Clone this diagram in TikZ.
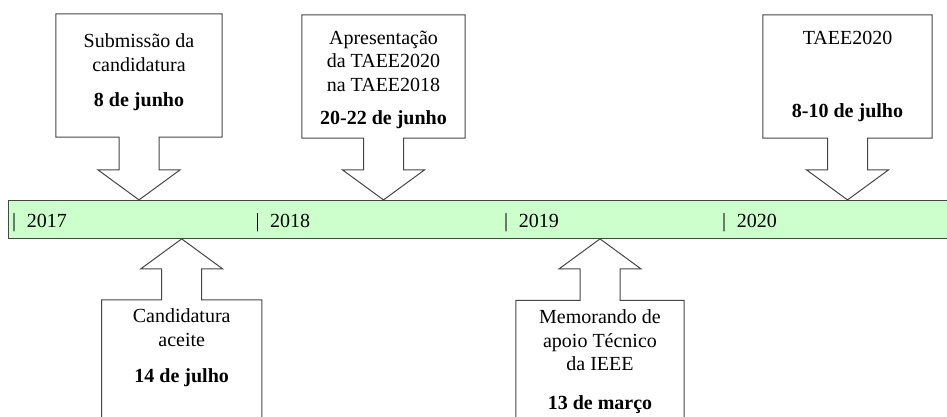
\documentclass[tikz,border=0pt]{standalone}
\usepackage{fontspec}
\setmainfont{LiberationSerif}[Extension=.ttf,UprightFont=*-Regular,BoldFont=*-Bold,
    ItalicFont=*-Italic,BoldItalicFont=*-BoldItalic]
\usetikzlibrary{calc}
\definecolor{barfill}{RGB}{204,255,204}
\definecolor{edgegray}{RGB}{70,70,70}

\begin{document}
\begin{tikzpicture}[x=1pt,y=-1pt,
    bar/.style={draw=edgegray,line width=1pt,fill=barfill,inner sep=0pt,
        minimum width=945pt,minimum height=38pt},
    evbox/.style={inner sep=0pt},
    callout/.style={draw=edgegray,line width=1pt,fill=white,line join=miter},
    evtext/.style={align=center,inner sep=0pt,anchor=north,
        font=\fontsize{20}{23.5}\selectfont},
    yeartext/.style={anchor=base west,inner sep=0pt,font=\fontsize{20}{24}\selectfont}]
    \path[use as bounding box,clip] (0,0) rectangle (947,416);

    %BAR
    \node[bar] (bar) at (481,219.4) {};
    \node[yeartext] (y2017) at (12,227.5) {|\hspace{10.7pt}2017};
    \node[yeartext] (y2018) at (255.3,227.5) {|\hspace{10.7pt}2018};
    \node[yeartext] (y2019) at (504,227.5) {|\hspace{10.7pt}2019};
    \node[yeartext] (y2020) at (722,227.5) {|\hspace{10.7pt}2020};

    %BOXES
    \node[evbox,minimum width=166pt,minimum height=123pt] (sub) at (139,75.5) {};
    \node[evbox,minimum width=163pt,minimum height=123pt] (apr) at (383.5,76.5) {};
    \node[evbox,minimum width=169pt,minimum height=123pt] (conf) at (847.5,76.5) {};
    \node[evbox,minimum width=160pt,minimum height=130pt] (acc) at (181.7,365) {};
    \node[evbox,minimum width=168pt,minimum height=130pt] (ieee) at (600,365.5) {};

    %ARROWS
    \foreach \b in {sub,apr,conf}{
        \coordinate (\b-tip) at (\b |- bar.north);
        \draw[callout] (\b.south west) -- (\b.north west) -- (\b.north east) -- (\b.south east)
            -- ($(\b.south)+(20,0)$) -- ($(\b-tip)+(20,-30)$) -- ($(\b-tip)+(41,-30)$)
            -- (\b-tip) -- ($(\b-tip)+(-41,-30)$) -- ($(\b-tip)+(-20,-30)$)
            -- ($(\b.south)+(-20,0)$) -- cycle;
    }
    \foreach \b in {acc,ieee}{
        \coordinate (\b-tip) at (\b |- bar.south);
        \draw[callout] (\b.north west) -- ($(\b.north)+(-20,0)$) -- ($(\b-tip)+(-20,30)$)
            -- ($(\b-tip)+(-41,30)$) -- (\b-tip) -- ($(\b-tip)+(41,30)$) -- ($(\b-tip)+(20,30)$)
            -- ($(\b.north)+(20,0)$) -- (\b.north east) -- (\b.south east) -- (\b.south west) -- cycle;
    }

    %TEXT
    \node[evtext] (sub-t) at ($(sub.north)+(0,20)$) {Submissão da\\candidatura\\[12pt]\textbf{8 de junho}};
    \node[evtext] (apr-t) at ($(apr.north)+(0,16)$) {Apresentação\\da TAEE2020\\na TAEE2018\\[10pt]\textbf{20-22 de junho}};
    \node[evtext] (conf-t) at ($(conf.north)+(0,16)$) {TAEE2020\\[50pt]\textbf{8-10 de julho}};
    \node[evtext] (acc-t) at ($(acc.north)+(0,9)$) {Candidatura\\aceite\\[13pt]\textbf{14 de julho}};
    \node[evtext] (ieee-t) at ($(ieee.north)+(0,9.5)$) {Memorando de\\apoio Técnico\\da IEEE\\[15pt]\textbf{13 de março}};
\end{tikzpicture}
\end{document}
